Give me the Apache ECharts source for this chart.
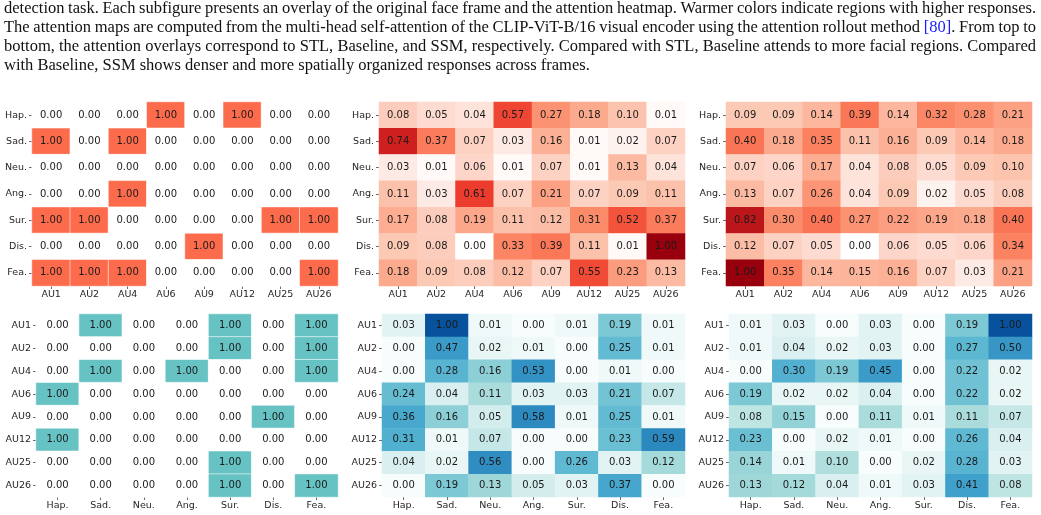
<!DOCTYPE html>
<html>
<head>
<meta charset="utf-8">
<script src="https://cdn.jsdelivr.net/npm/echarts@6/dist/echarts.min.js"></script>
<style>
html, body { margin: 0; padding: 0; background: #fff; }
#container { width: 1041px; height: 515px; }
</style>
</head>
<body>
<div id="container"></div>
<script>
var dom = document.getElementById("container");
var myChart = echarts.init(dom);

// caption text above the figure
var captionLines = [
    "detection task. Each subfigure presents an overlay of the original face frame and the attention heatmap. Warmer colors indicate regions with higher responses.",
    "The attention maps are computed from the multi-head self-attention of the CLIP-ViT-B/16 visual encoder using the attention rollout method [80]. From top to",
    "bottom, the attention overlays correspond to STL, Baseline, and SSM, respectively. Compared with STL, Baseline attends to more facial regions. Compared",
    "with Baseline, SSM shows denser and more spatially organized responses across frames."
];

var emotions = ['Hap.', 'Sad.', 'Neu.', 'Ang.', 'Sur.', 'Dis.', 'Fea.'];
var aus = ['AU1', 'AU2', 'AU4', 'AU6', 'AU9', 'AU12', 'AU25', 'AU26'];

// top row: emotion (rows) x AU (cols)
var stlEmoAu = [
    [0, 0, 0, 1, 0, 1, 0, 0],
    [1, 0, 1, 0, 0, 0, 0, 0],
    [0, 0, 0, 0, 0, 0, 0, 0],
    [0, 0, 1, 0, 0, 0, 0, 0],
    [1, 1, 0, 0, 0, 0, 1, 1],
    [0, 0, 0, 0, 1, 0, 0, 0],
    [1, 1, 1, 0, 0, 0, 0, 1]
];
var baselineEmoAu = [
    [0.08, 0.05, 0.04, 0.57, 0.27, 0.18, 0.10, 0.01],
    [0.74, 0.37, 0.07, 0.03, 0.16, 0.01, 0.02, 0.07],
    [0.03, 0.01, 0.06, 0.01, 0.07, 0.01, 0.13, 0.04],
    [0.11, 0.03, 0.61, 0.07, 0.21, 0.07, 0.09, 0.11],
    [0.17, 0.08, 0.19, 0.11, 0.12, 0.31, 0.52, 0.37],
    [0.09, 0.08, 0.00, 0.33, 0.39, 0.11, 0.01, 1.00],
    [0.18, 0.09, 0.08, 0.12, 0.07, 0.55, 0.23, 0.13]
];
var ssmEmoAu = [
    [0.09, 0.09, 0.14, 0.39, 0.14, 0.32, 0.28, 0.21],
    [0.40, 0.18, 0.35, 0.11, 0.16, 0.09, 0.14, 0.18],
    [0.07, 0.06, 0.17, 0.04, 0.08, 0.05, 0.09, 0.10],
    [0.13, 0.07, 0.26, 0.04, 0.09, 0.02, 0.05, 0.08],
    [0.82, 0.30, 0.40, 0.27, 0.22, 0.19, 0.18, 0.40],
    [0.12, 0.07, 0.05, 0.00, 0.06, 0.05, 0.06, 0.34],
    [1.00, 0.35, 0.14, 0.15, 0.16, 0.07, 0.03, 0.21]
];

// bottom row: AU (rows) x emotion (cols)
var stlAuEmo = [
    [0, 1, 0, 0, 1, 0, 1],
    [0, 0, 0, 0, 1, 0, 1],
    [0, 1, 0, 1, 0, 0, 1],
    [1, 0, 0, 0, 0, 0, 0],
    [0, 0, 0, 0, 0, 1, 0],
    [1, 0, 0, 0, 0, 0, 0],
    [0, 0, 0, 0, 1, 0, 0],
    [0, 0, 0, 0, 1, 0, 1]
];
var baselineAuEmo = [
    [0.03, 1.00, 0.01, 0.00, 0.01, 0.19, 0.01],
    [0.00, 0.47, 0.02, 0.01, 0.00, 0.25, 0.01],
    [0.00, 0.28, 0.16, 0.53, 0.00, 0.01, 0.00],
    [0.24, 0.04, 0.11, 0.03, 0.03, 0.21, 0.07],
    [0.36, 0.16, 0.05, 0.58, 0.01, 0.25, 0.01],
    [0.31, 0.01, 0.07, 0.00, 0.00, 0.23, 0.59],
    [0.04, 0.02, 0.56, 0.00, 0.26, 0.03, 0.12],
    [0.00, 0.19, 0.13, 0.05, 0.03, 0.37, 0.00]
];
var ssmAuEmo = [
    [0.01, 0.03, 0.00, 0.03, 0.00, 0.19, 1.00],
    [0.01, 0.04, 0.02, 0.03, 0.00, 0.27, 0.50],
    [0.00, 0.30, 0.19, 0.45, 0.00, 0.22, 0.02],
    [0.19, 0.02, 0.02, 0.04, 0.00, 0.22, 0.02],
    [0.08, 0.15, 0.00, 0.11, 0.01, 0.11, 0.07],
    [0.23, 0.00, 0.02, 0.01, 0.00, 0.26, 0.04],
    [0.14, 0.01, 0.10, 0.00, 0.02, 0.28, 0.03],
    [0.13, 0.12, 0.04, 0.01, 0.03, 0.41, 0.08]
];

// colour ramps (value stop, colour)
var redStops = [[0, '#ffffff'], [0.02, '#fef2ee'], [0.05, '#fddbd0'], [0.1, '#fcc4ae'], [0.2, '#fca386'],
    [0.3, '#fb8c6b'], [0.4, '#fa7555'], [0.5, '#f5573e'], [0.6, '#ed3e2e'], [0.7, '#d62621'],
    [0.8, '#bf181b'], [0.9, '#aa0e15'], [1, '#99000d']];
var blueStops = [[0, '#f7fcfc'], [0.02, '#e9f6f6'], [0.05, '#d3eded'], [0.1, '#b1dfdd'], [0.15, '#93d2d7'],
    [0.2, '#77c5d4'], [0.25, '#62bbd2'], [0.3, '#53b0d0'], [0.4, '#40a2cb'], [0.5, '#3796c6'],
    [0.6, '#2b87be'], [0.8, '#186aab'], [1, '#08519c']];

function hexToRgb(h) {
    return [parseInt(h.substr(1, 2), 16), parseInt(h.substr(3, 2), 16), parseInt(h.substr(5, 2), 16)];
}
function ramp(stops) {
    var out = [];
    for (var i = 0; i <= 100; i++) {
        var t = i / 100, k = 0;
        while (k < stops.length - 2 && t > stops[k + 1][0]) k++;
        var a = stops[k], b = stops[k + 1];
        var f = (t - a[0]) / (b[0] - a[0]);
        var ca = hexToRgb(a[1]), cb = hexToRgb(b[1]);
        out.push('rgb(' + [0, 1, 2].map(function (j) { return Math.round(ca[j] + (cb[j] - ca[j]) * f); }).join(',') + ')');
    }
    return out;
}

var grids = [
    {left: 32, top: 102, width: 306, height: 184},
    {left: 379, top: 102, width: 306, height: 184},
    {left: 726, top: 102, width: 306, height: 184},
    {left: 36, top: 314, width: 302, height: 183},
    {left: 382, top: 314, width: 303, height: 183},
    {left: 729, top: 314, width: 303, height: 183}
];

var tickLabel = {fontSize: 9.5, fontFamily: 'DejaVu Sans', color: '#262626', interval: 0};
var tick = {show: true, length: 3, alignWithLabel: true, interval: 0, lineStyle: {color: '#444', width: 0.8}};

var xAxes = [], yAxes = [], series = [];
var mats = [stlEmoAu, baselineEmoAu, ssmEmoAu, stlAuEmo, baselineAuEmo, ssmAuEmo];
mats.forEach(function (m, i) {
    var top = i < 3;
    xAxes.push({type: 'category', gridIndex: i, data: top ? aus : emotions, position: 'bottom',
        axisLine: {show: false}, axisTick: tick, splitLine: {show: false},
        axisLabel: echarts.util.extend({margin: 4}, tickLabel)});
    yAxes.push({type: 'category', gridIndex: i, data: top ? emotions : aus, inverse: true,
        axisLine: {show: false}, axisTick: tick, splitLine: {show: false},
        axisLabel: echarts.util.extend({margin: 5}, tickLabel)});
    var data = [];
    m.forEach(function (row, r) {
        row.forEach(function (v, c) { data.push([c, r, v]); });
    });
    var binary = (i === 0 || i === 3);
    series.push({
        type: 'heatmap', xAxisIndex: i, yAxisIndex: i, data: data,
        label: {show: true, fontSize: 10, fontFamily: 'DejaVu Sans', color: '#1a1a1a',
            formatter: function (p) { return p.value[2].toFixed(2); }},
        itemStyle: binary ? {borderColor: 'rgba(255,255,255,0.55)', borderWidth: 1} : {},
        emphasis: {disabled: true}
    });
});

// caption words laid out justified like the page text
var ctx = document.createElement('canvas').getContext('2d');
var captionFont = '16.5px "Liberation Serif"';
ctx.font = captionFont;
var textLeft = 4, textRight = 1036, lineY = [9, 28, 47, 66];
var graphics = [];
captionLines.forEach(function (line, li) {
    var words = line.split(' ');
    var widths = words.map(function (w) { return ctx.measureText(w).width; });
    var total = widths.reduce(function (a, b) { return a + b; }, 0);
    var last = li === captionLines.length - 1;
    var gap = last ? ctx.measureText(' ').width : (textRight - textLeft - total) / (words.length - 1);
    var x = textLeft;
    words.forEach(function (w, wi) {
        if (w.indexOf('[80]') === 0) {
            graphics.push({type: 'text', x: x, y: lineY[li], silent: true,
                style: {text: '[80]', font: captionFont, fill: '#1a1aff', textVerticalAlign: 'middle'}});
            graphics.push({type: 'text', x: x + ctx.measureText('[80]').width, y: lineY[li], silent: true,
                style: {text: w.substr(4), font: captionFont, fill: '#111', textVerticalAlign: 'middle'}});
        } else {
            graphics.push({type: 'text', x: x, y: lineY[li], silent: true,
                style: {text: w, font: captionFont, fill: '#111', textVerticalAlign: 'middle'}});
        }
        x += widths[wi] + gap;
    });
});

option = {
    backgroundColor: '#ffffff',
    animation: false,
    grid: grids,
    xAxis: xAxes,
    yAxis: yAxes,
    visualMap: [
        {type: 'continuous', show: false, min: 0, max: 1, seriesIndex: [0], inRange: {color: ['#ffffff', '#fc6b4b']}},
        {type: 'continuous', show: false, min: 0, max: 1, seriesIndex: [1, 2], inRange: {color: ramp(redStops)}},
        {type: 'continuous', show: false, min: 0, max: 1, seriesIndex: [3], inRange: {color: ['#ffffff', '#67c2c3']}},
        {type: 'continuous', show: false, min: 0, max: 1, seriesIndex: [4, 5], inRange: {color: ramp(blueStops)}}
    ],
    graphic: graphics,
    series: series
};
if (option && typeof option === "object") {
    myChart.setOption(option, true);
}
</script>
</body>
</html>
